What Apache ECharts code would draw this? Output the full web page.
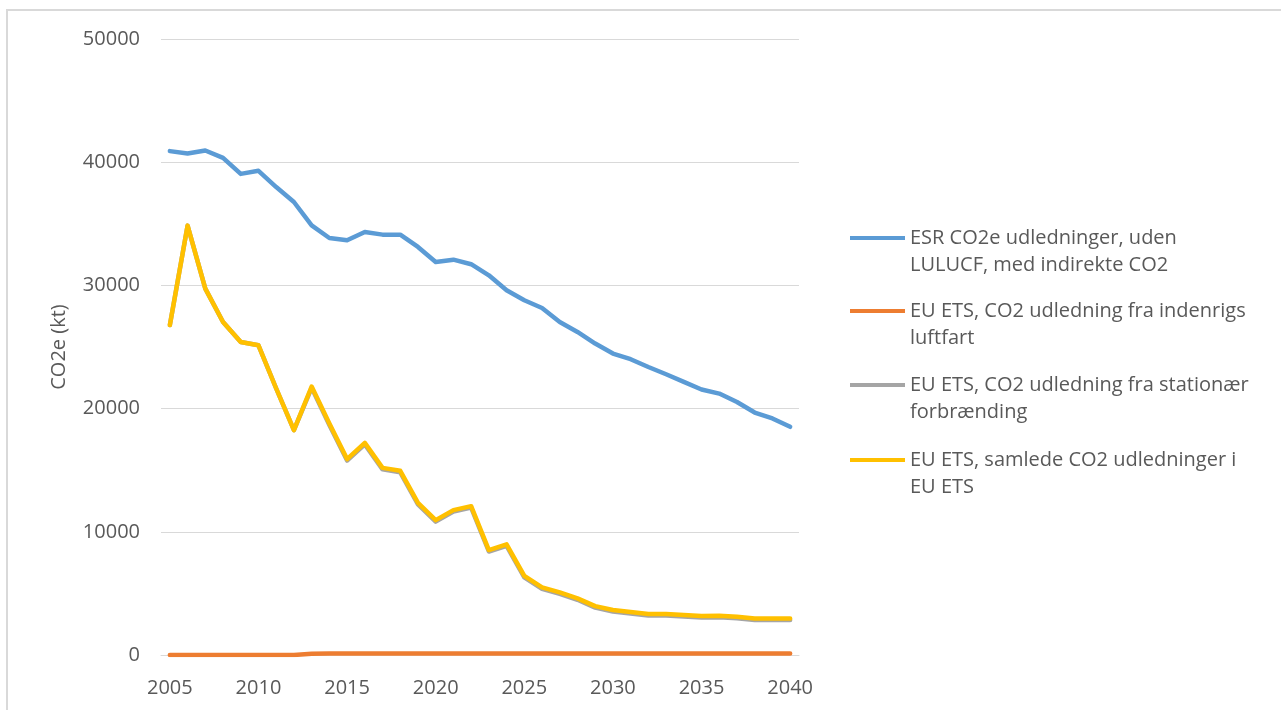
<!DOCTYPE html>
<html>
<head>
<meta charset="utf-8">
<script src="https://cdn.jsdelivr.net/npm/echarts@6/dist/echarts.min.js"></script>
<style>
html,body{margin:0;padding:0;background:#fff;}
#chart{width:1281px;height:710px;}
</style>
</head>
<body>
<div id="chart"></div>
<script>
const years = [];
for (let y = 2005; y <= 2040; y++) years.push(String(y));

const seriesNames = [
  'ESR CO2e udledninger, uden LULUCF, med indirekte CO2',
  'EU ETS, CO2 udledning fra indenrigs luftfart',
  'EU ETS, CO2 udledning fra stationær forbrænding',
  'EU ETS, samlede CO2 udledninger i EU ETS'
];
const legendLabels = [
  'ESR CO2e udledninger, uden\nLULUCF, med indirekte CO2',
  'EU ETS, CO2 udledning fra indenrigs\nluftfart',
  'EU ETS, CO2 udledning fra stationær\nforbrænding',
  'EU ETS, samlede CO2 udledninger i\nEU ETS'
];

const esr = [40900, 40700, 40950, 40350, 39050, 39300, 37980, 36770, 34870, 33850,
  33660, 34330, 34120, 34120, 33120, 31900, 32090, 31720, 30820, 29600,
  28790, 28170, 27030, 26220, 25280, 24470, 24010, 23380, 22790, 22170,
  21550, 21220, 20540, 19680, 19200, 18520];

const aviation = [0, 0, 0, 0, 0, 0, 0, 0, 100, 120,
  120, 120, 120, 120, 120, 120, 120, 120, 120, 120,
  120, 120, 120, 120, 120, 120, 120, 120, 120, 120,
  120, 120, 120, 120, 120, 120];

const etsTotal = [26780, 34850, 29740, 27030, 25410, 25140, 21630, 18250, 21790, 18790,
  15900, 17220, 15190, 14950, 12350, 10950, 11760, 12080, 8520, 8980,
  6420, 5490, 5080, 4600, 3970, 3650, 3490, 3330, 3330, 3240,
  3160, 3190, 3110, 2970, 2970, 2970];

const stationary = [26780, 34850, 29740, 27030, 25410, 25140, 21630, 18250, 21690, 18670,
  15780, 17100, 15070, 14830, 12230, 10830, 11640, 11960, 8400, 8860,
  6300, 5370, 4960, 4480, 3850, 3530, 3370, 3210, 3210, 3120,
  3040, 3070, 2990, 2850, 2850, 2850];

const yTicks = [0, 10000, 20000, 30000, 40000, 50000];

const colors = ['#5B9BD5', '#ED7D31', '#A5A5A5', '#FFC000'];
const font = '"Open Sans", "Noto Sans", sans-serif';
const values = [esr, aviation, stationary, etsTotal];

const legendTops = [238, 311, 385, 460];
const labelMap = {};
seriesNames.forEach((n, i) => labelMap[n] = legendLabels[i]);

const chart = echarts.init(document.getElementById('chart'), null, {renderer: 'canvas'});
chart.setOption({
  backgroundColor: '#ffffff',
  animation: false,
  color: colors,
  graphic: [{
    type: 'rect',
    shape: {x: 7, y: 10, width: 1400, height: 900},
    style: {fill: 'none', stroke: '#d9d9d9', lineWidth: 2},
    silent: true, z: -1
  }],
  grid: {left: 161, right: 482, top: 39, bottom: 55, containLabel: false},
  legend: seriesNames.map((n, i) => ({
    data: [n],
    orient: 'vertical',
    left: 850,
    top: legendTops[i] - 40.5,
    padding: 0,
    itemWidth: 55,
    itemHeight: 4,
    icon: 'rect',
    itemGap: 0,
    formatter: name => '\n' + labelMap[name],
    textStyle: {
      fontFamily: font, fontSize: 20, color: '#595959',
      lineHeight: 27
    }
  })),
  xAxis: {
    type: 'category',
    data: years,
    boundaryGap: true,
    axisLine: {show: true, lineStyle: {color: '#d9d9d9', width: 1}},
    axisTick: {show: false},
    axisLabel: {interval: 4, margin: 23, fontFamily: font, fontSize: 20, color: '#595959'},
    splitLine: {show: false}
  },
  yAxis: {
    type: 'value',
    min: yTicks[0],
    max: yTicks[yTicks.length - 1],
    interval: 10000,
    name: 'CO2e (kt)',
    nameLocation: 'middle',
    nameRotate: 90,
    nameGap: 92,
    nameTextStyle: {fontFamily: font, fontSize: 20, color: '#595959'},
    axisLine: {show: false},
    axisTick: {show: false},
    axisLabel: {margin: 21, fontFamily: font, fontSize: 20, color: '#595959',
      formatter: v => String(v)},
    splitLine: {show: true, lineStyle: {color: '#d9d9d9', width: 1}}
  },
  series: seriesNames.map((n, i) => ({
    name: n,
    type: 'line',
    data: values[i],
    showSymbol: false,
    symbol: 'none',
    lineStyle: {width: 4.5, color: colors[i], cap: 'round', join: 'round'},
    itemStyle: {color: colors[i]},
    emphasis: {disabled: true}
  }))
});
</script>
</body>
</html>
